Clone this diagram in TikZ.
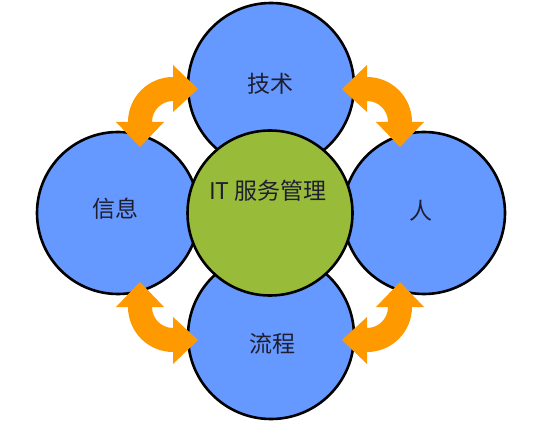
\documentclass[tikz,border=0pt]{standalone}
\usepackage{fontspec}
\newfontfamily\cjk{Noto Sans CJK SC}
\definecolor{blueC}{HTML}{6699FF}
\definecolor{greenC}{HTML}{99BB3A}
\definecolor{orangeA}{HTML}{FF9900}
\definecolor{txtC}{HTML}{1E1E30}
\tikzset{
  circ/.style={circle, draw=black, line width=2.6pt, inner sep=0pt, outer sep=0pt},
  bluec/.style={circ, fill=blueC, minimum size=#1},
  greenc/.style={circ, fill=greenC, minimum size=#1},
  lbl/.style={font=\cjk\fontsize{23}{25}\selectfont, text=txtC, inner sep=0pt},
  dblarrow/.pic={
    \fill[orangeA] (0,21) -- (0,10) -- (25,33) -- (0,57) -- (0,45)
      arc[start angle=90, end angle=180, radius=45]
      -- (-57,0) -- (-33,-25) -- (-9,0) -- (-21,0)
      arc[start angle=180, end angle=90, radius=21] -- cycle;
  }
}
\begin{document}
\begin{tikzpicture}[x=1pt,y=1pt]
\useasboundingbox (0,0) rectangle (537,437);
\fill[white] (0,0) rectangle (537,437);
% satellite circles
\node[bluec=166pt] (top) at (271,351) {};
\node[bluec=166pt] (bottom) at (271,101) {};
\node[bluec=162pt] (left) at (118,224) {};
\node[bluec=162pt] (right) at (424,224) {};
% centre circle
\node[greenc=165pt] (centre) at (270,224) {};
% arrows
\pic at (173,315) {dblarrow};
\pic[xscale=-1] at (367,315) {dblarrow};
\pic[yscale=-1] at (173,130) {dblarrow};
\pic[xscale=-1,yscale=-1] at (367,130) {dblarrow};
% labels
\node[lbl] (ttop) at (270,353) {技术};
\node[lbl] (tcentre) at (268,246) {IT 服务管理};
\node[lbl] (tleft) at (115,228) {信息};
\node[lbl] (tright) at (421,226) {人};
\node[lbl] (tbottom) at (272,93) {流程};
\end{tikzpicture}
\end{document}
